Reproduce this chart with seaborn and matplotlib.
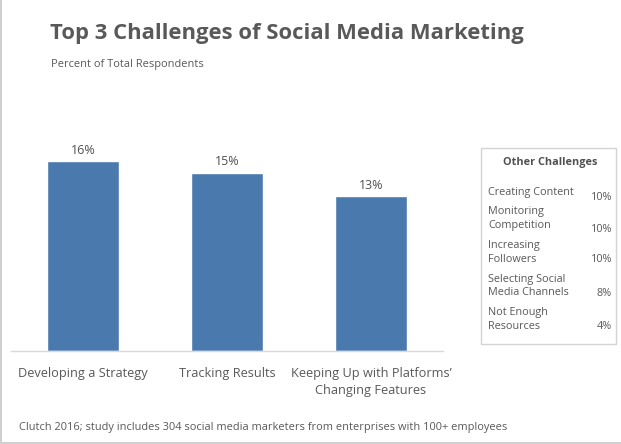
import matplotlib
matplotlib.use("Agg")
import matplotlib.pyplot as plt
import seaborn as sns
import pandas as pd
from matplotlib.patches import Rectangle
from matplotlib.lines import Line2D

# data
categories = ["Developing a Strategy", "Tracking Results",
              "Keeping Up with Platforms\u2019\nChanging Features"]
values = [16, 15, 13]
other_labels = ["Creating Content", "Monitoring\nCompetition", "Increasing\nFollowers",
                "Selecting Social\nMedia Channels", "Not Enough\nResources"]
other_values = [10, 10, 10, 8, 4]

title = "Top 3 Challenges of Social Media Marketing"
subtitle = "Percent of Total Respondents"
footer = "Clutch 2016; study includes 304 social media marketers from enterprises with 100+ employees"

W, H = 621, 444
BAR = "#4a7aad"
TXT = "#595959"

sns.set_style("white")
plt.rcParams["font.family"] = ["Open Sans", "DejaVu Sans"]

df = pd.DataFrame({"cat": categories, "val": values})

fig = plt.figure(figsize=(W / 100, H / 100), dpi=100)
ax = fig.add_axes([11 / W, (H - 350.7) / H, 432 / W, 237.4 / H])
sns.barplot(data=df, x="cat", y="val", color=BAR, width=0.5, saturation=1, ax=ax)
ax.set_xlim(-0.5, 2.5)
ax.set_ylim(0, 20)
ax.set_xlabel("")
ax.set_ylabel("")
ax.set_yticks([])
for s in ["top", "right", "left"]:
    ax.spines[s].set_visible(False)
ax.spines["bottom"].set_color("#d9d9d9")
ax.spines["bottom"].set_linewidth(1)
ax.tick_params(axis="x", length=0, pad=12, labelsize=9.2, labelcolor=TXT)
for t in ax.get_xticklabels():
    t.set_linespacing(1.4)

for i, v in enumerate(values):
    ax.text(i, v + 0.35, f"{v}%", ha="center", va="bottom", fontsize=9, color="#505050")

def px(x, y):
    return x / W, 1 - y / H

fig.text(*px(50, 33), title, fontsize=15.8, fontweight="bold", color="#595959", va="center")
fig.text(*px(51, 65), subtitle, fontsize=7.9, color=TXT, va="center")
fig.text(*px(19, 427), footer, fontsize=7.9, color=TXT, va="center")

# side box
x0, y0, x1, y1 = px(481, 344) + px(616, 148)
fig.patches.append(Rectangle((x0, y0), x1 - x0, y1 - y0, transform=fig.transFigure,
                             fill=False, edgecolor="#d4d4d4", linewidth=1))
fig.text(*px(550, 162), "Other Challenges", fontsize=7.8, fontweight="bold",
         color="#505050", ha="center", va="center")
label_y = [192, 218.5, 252.5, 286, 319.5]
value_y = [197, 229, 259, 293, 326]
for lab, val, ly, vy in zip(other_labels, other_values, label_y, value_y):
    fig.text(*px(488, ly), lab, fontsize=7.8, color=TXT, va="center", linespacing=1.3)
    fig.text(*px(612, vy), f"{val}%", fontsize=7.8, color=TXT, va="center", ha="right")

# outer frame lines
fig.add_artist(Line2D([1 / W, 1 / W], [0, 1], color="#d0d0d0", linewidth=1.5))
fig.add_artist(Line2D([0, 1], [1.5 / H, 1.5 / H], color="#d0d0d0", linewidth=1.5))

fig.savefig("out.png", dpi=100)
